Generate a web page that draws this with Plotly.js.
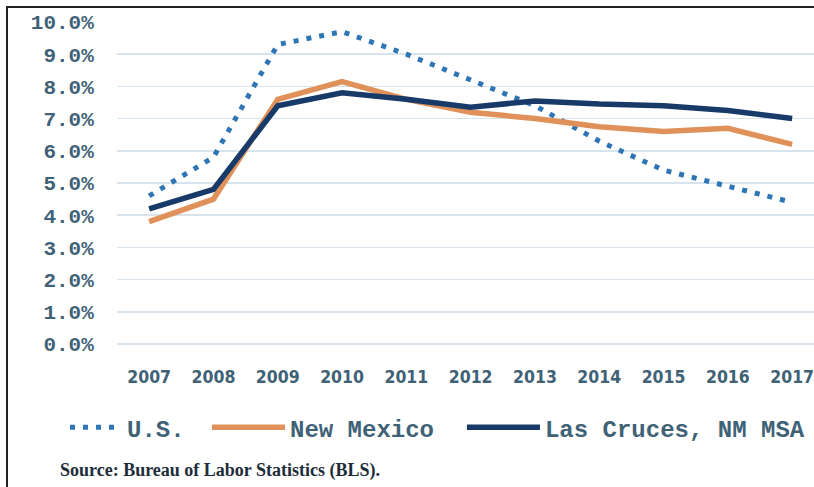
<!DOCTYPE html>
<html>
<head>
<meta charset="utf-8">
<script src="https://cdn.plot.ly/plotly-3.0.1.min.js"></script>
<style>
  html, body { margin: 0; padding: 0; background: #ffffff; }
  #chart { width: 814px; height: 487px; position: relative; }
  #frame { position: absolute; left: 6px; top: 6px; width: 820px; height: 500px;
           border-left: 2px solid #222; border-top: 2px solid #222; pointer-events: none; }
</style>
</head>
<body>
<div id="chart"></div>
<div id="frame"></div>
<script>
const years = ['2007','2008','2009','2010','2011','2012','2013','2014','2015','2016','2017'];
const usRate = [4.6, 5.8, 9.3, 9.7, 9.0, 8.2, 7.4, 6.3, 5.4, 4.9, 4.4];
const nmRate = [3.8, 4.5, 7.6, 8.15, 7.6, 7.2, 7.0, 6.75, 6.6, 6.7, 6.2];
const lcRate = [4.2, 4.8, 7.4, 7.8, 7.6, 7.35, 7.55, 7.45, 7.4, 7.25, 7.0];
const yTicks = [0,1,2,3,4,5,6,7,8,9,10];
const yTickText = ['0.0%','1.0%','2.0%','3.0%','4.0%','5.0%','6.0%','7.0%','8.0%','9.0%','10.0%'];
const seriesNames = ['U.S.', 'New Mexico', 'Las Cruces, NM MSA'];

const textColor = '#3f6277';

const traces = [
  { x: years, y: usRate, name: seriesNames[0], legend: 'legend', type: 'scatter', mode: 'lines',
    line: { color: '#2e75b6', width: 5, dash: '5px,8px' } },
  { x: years, y: nmRate, name: seriesNames[1], legend: 'legend2', type: 'scatter', mode: 'lines',
    line: { color: '#df9159', width: 5.5 } },
  { x: years, y: lcRate, name: seriesNames[2], legend: 'legend3', type: 'scatter', mode: 'lines',
    line: { color: '#173a68', width: 5.5 } }
];

const legendFont = { family: 'Liberation Mono', size: 24, color: textColor, weight: 'bold' };
function legendAt(x, w) {
  return { orientation: 'h', x: x, xanchor: 'left', y: -0.26, yanchor: 'middle',
           font: legendFont, itemwidth: w, bgcolor: 'rgba(0,0,0,0)', borderwidth: 0 };
}

const layout = {
  width: 814, height: 487,
  margin: { l: 117, r: 0, t: 22, b: 143 },
  paper_bgcolor: '#ffffff', plot_bgcolor: '#ffffff',
  showlegend: true,
  legend: legendAt(-0.0746, 52),
  legend2: legendAt(0.1291, 73),
  legend3: legendAt(0.4949, 73),
  xaxis: {
    type: 'category', range: [-0.5, 10.34], fixedrange: true,
    showgrid: false, zeroline: false, showline: false,
    ticks: 'outside', ticklen: 17, tickcolor: 'rgba(0,0,0,0)',
    tickfont: { family: 'DejaVu Sans Condensed', size: 17.5, color: textColor, weight: 'bold' }
  },
  yaxis: {
    range: [0, 10], fixedrange: true,
    tickvals: yTicks, ticktext: yTickText,
    showgrid: true, gridcolor: '#d8e3ec', gridwidth: 1.5,
    zeroline: true, zerolinecolor: '#d8e3ec', zerolinewidth: 1.5, showline: false,
    ticks: 'outside', ticklen: 18, tickcolor: 'rgba(0,0,0,0)',
    tickfont: { family: 'Liberation Mono', size: 21, color: textColor, weight: 'bold' }
  },
  annotations: [
    { text: 'Source: Bureau of Labor Statistics (BLS).', xref: 'paper', yref: 'paper',
      x: -0.085, y: -0.393, xanchor: 'left', yanchor: 'middle', showarrow: false,
      font: { family: 'Liberation Serif', size: 18, color: '#1e2d3a', weight: 'bold' } }
  ]
};

Plotly.newPlot('chart', traces, layout, { displayModeBar: false, staticPlot: true });
</script>
</body>
</html>
